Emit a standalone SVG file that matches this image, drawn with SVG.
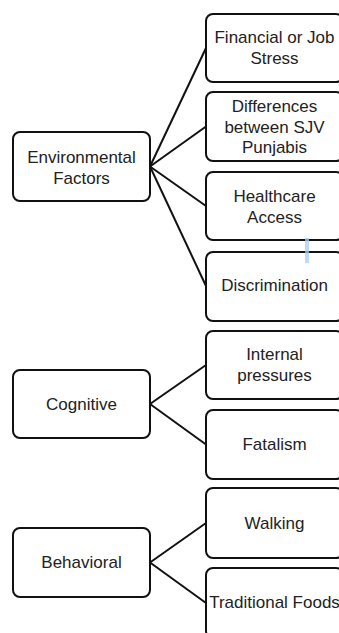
<svg xmlns="http://www.w3.org/2000/svg" width="339" height="633" viewBox="0 0 339 633">
<style>
.box{fill:#ffffff;stroke:#111111;stroke-width:2}
.t{font-family:"Liberation Sans",Arial,sans-serif;font-size:17px;fill:#222222;text-anchor:middle}
.c{stroke:#111111;stroke-width:2;fill:none}
</style>
<rect width="339" height="633" fill="#ffffff"/>
<g id="connectors">
<line class="c" x1="150" y1="166.5" x2="206" y2="48"/>
<line class="c" x1="150" y1="166.5" x2="206" y2="126.5"/>
<line class="c" x1="150" y1="166.5" x2="206" y2="206"/>
<line class="c" x1="150" y1="166.5" x2="206" y2="286"/>
<line class="c" x1="150" y1="404" x2="206" y2="365"/>
<line class="c" x1="150" y1="404" x2="206" y2="444.5"/>
<line class="c" x1="150" y1="562.5" x2="206" y2="523"/>
<line class="c" x1="150" y1="562.5" x2="206" y2="603"/>
</g>
<g id="environmental">
<rect class="box" x="13" y="132" width="137" height="69" rx="7"/>
<text class="t" x="81.5" y="163">Environmental</text>
<text class="t" x="81.5" y="184">Factors</text>
</g>
<g id="financial">
<rect class="box" x="206" y="14" width="137" height="68" rx="7"/>
<text class="t" x="274.5" y="42.5">Financial or Job</text>
<text class="t" x="274.5" y="63.5">Stress</text>
</g>
<g id="differences">
<rect class="box" x="206" y="92" width="137" height="69" rx="7"/>
<text class="t" x="274.5" y="112">Differences</text>
<text class="t" x="274.5" y="132.5">between SJV</text>
<text class="t" x="274.5" y="153">Punjabis</text>
</g>
<g id="healthcare">
<rect class="box" x="206" y="172" width="137" height="68" rx="7"/>
<text class="t" x="274.5" y="202">Healthcare</text>
<text class="t" x="274.5" y="223">Access</text>
</g>
<g id="discrimination">
<rect class="box" x="206" y="252" width="137" height="69" rx="7"/>
<text class="t" x="274.5" y="291">Discrimination</text>
</g>
<g id="cognitive">
<rect class="box" x="13" y="370" width="137" height="68" rx="7"/>
<text class="t" x="81.5" y="409.5">Cognitive</text>
</g>
<g id="internal">
<rect class="box" x="206" y="331" width="137" height="68" rx="7"/>
<text class="t" x="274.5" y="360">Internal</text>
<text class="t" x="274.5" y="381">pressures</text>
</g>
<g id="fatalism">
<rect class="box" x="206" y="410" width="137" height="69" rx="7"/>
<text class="t" x="274.5" y="450">Fatalism</text>
</g>
<g id="behavioral">
<rect class="box" x="13" y="528" width="137" height="69" rx="7"/>
<text class="t" x="81.5" y="568">Behavioral</text>
</g>
<g id="walking">
<rect class="box" x="206" y="488" width="137" height="70" rx="7"/>
<text class="t" x="274.5" y="529">Walking</text>
</g>
<g id="traditional">
<rect class="box" x="206" y="568" width="137" height="70" rx="7"/>
<text class="t" x="274.5" y="608">Traditional Foods</text>
</g>
<rect x="305" y="238" width="4" height="25" fill="#a9cdf2" opacity="0.75"/>
</svg>
